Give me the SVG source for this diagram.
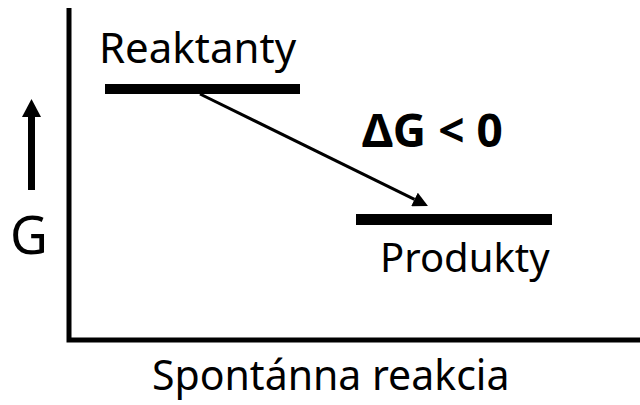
<svg xmlns="http://www.w3.org/2000/svg" width="640" height="405" viewBox="0 0 640 405">
<style>
text{font-family:"Noto Sans","Open Sans","Liberation Sans",sans-serif;fill:#000}
.lbl{font-size:42px}
.bar{fill:#000}
</style>
<defs>
<marker id="ah" viewBox="0 0 15 15" refX="0" refY="7.5" markerWidth="15" markerHeight="15" markerUnits="userSpaceOnUse" orient="auto"><path d="M0,0 L15,7.5 L0,15 z" fill="#000"/></marker>
</defs>
<rect width="640" height="405" fill="#fff"/>
<g id="axes">
<path d="M69,8 V340 H640" fill="none" stroke="#000" stroke-width="5"/>
</g>
<g id="g-axis">
<rect x="28" y="116" width="7" height="74" fill="#000"/>
<path d="M22,117 L31.5,99 L41,117 z" fill="#000"/>
<text x="10" y="254" style="font-size:52px">G</text>
</g>
<g id="reaktanty">
<rect class="bar" x="105" y="84" width="195" height="10"/>
<text class="lbl" x="99" y="63">Reaktanty</text>
</g>
<g id="produkty">
<rect class="bar" x="356" y="214" width="196" height="11"/>
<text x="380" y="272" style="font-size:40px">Produkty</text>
</g>
<g id="connectors">
<line x1="200" y1="94" x2="414.5" y2="199.4" stroke="#000" stroke-width="3" marker-end="url(#ah)"/>
</g>
<text x="362" y="147" style="font-size:46px;font-weight:bold">ΔG &lt; 0</text>
<text x="152" y="390" style="font-size:41px">Spontánna reakcia</text>
</svg>
